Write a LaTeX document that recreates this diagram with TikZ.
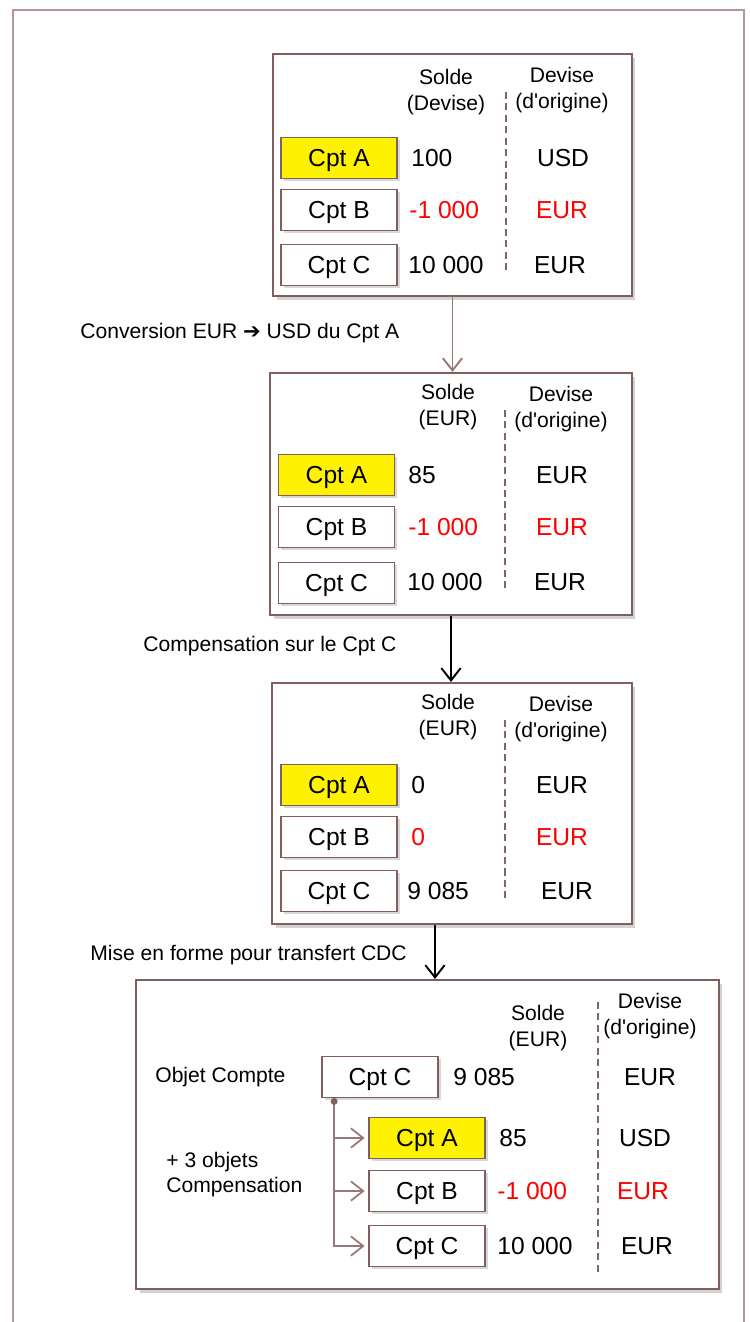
\documentclass[tikz,border=0pt]{standalone}
\usepackage{fontspec}
\setmainfont{Liberation Sans}
\newfontfamily\arrowfont{DejaVu Sans}
\usetikzlibrary{arrows.meta,shadows}

\definecolor{frameline}{RGB}{185,150,150}
\definecolor{panelline}{RGB}{130,95,95}
\definecolor{flowline}{RGB}{150,120,120}
\definecolor{cptred}{RGB}{255,0,0}

\begin{document}
\begin{tikzpicture}[x=0.02cm,y=-0.02cm,
  panel/.style={draw=panelline,line width=1.2pt,fill=white,inner sep=0pt,
    drop shadow={shadow xshift=2pt,shadow yshift=-2.5pt,opacity=.35}},
  cpt/.style={draw=panelline,line width=1pt,fill=white,minimum width=2.32cm,
    minimum height=0.82cm,inner sep=0pt,text height=10pt,text depth=0pt,
    font=\fontsize{14}{16}\selectfont,
    drop shadow={shadow xshift=1.5pt,shadow yshift=-1.5pt,opacity=.3}},
  head/.style={align=center,inner sep=0pt,font=\fontsize{12}{14.7}\selectfont},
  val/.style={anchor=west,inner sep=0pt,text height=10pt,text depth=0pt,
    font=\fontsize{14}{16}\selectfont},
  dev/.style={inner sep=0pt,text height=10pt,text depth=0pt,
    font=\fontsize{14}{16}\selectfont},
  lbl/.style={anchor=west,inner sep=0pt,font=\fontsize{12}{14.2}\selectfont},
  sep/.style={draw=flowline!85!black,dash pattern=on 4pt off 2.5pt,line width=0.8pt},
  flow/.style={line width=1.1pt,-{Straight Barb[length=7pt,width=11pt]}},
  branch/.style={flowline,line width=1pt,shorten >=2pt,
    -{Straight Barb[length=7pt,width=11pt]}}
]
  \useasboundingbox (0,0) rectangle (750,1322);
  \draw[frameline,line width=1.2pt] (13,1330) -- (13,10) -- (744,10) -- (744,1330);

  % etat initial
  \node[panel,minimum width=7.18cm,minimum height=4.84cm] (p1) at (452.5,175) {};
  \node[head] (p1h1) at (446,92) {Solde\\(Devise)};
  \node[head] (p1h2) at (562,90) {Devise\\(d\textquotesingle origine)};
  \draw[sep] (506,92) -- (506,270);
  \node[cpt,fill=yellow] (p1a) at (339,158) {Cpt A};
  \node[cpt] (p1b) at (339,210) {Cpt B};
  \node[cpt] (p1c) at (339,265) {Cpt C};
  \node[val] (p1va) at (411,158) {100};
  \node[val,cptred] (p1vb) at (409,210) {-1 000};
  \node[val] (p1vc) at (408,265) {10 000};
  \node[dev] (p1da) at (563,158) {USD};
  \node[dev,cptred] (p1db) at (562,210) {EUR};
  \node[dev] (p1dc) at (560,265) {EUR};

  % conversion
  \node[panel,minimum width=7.24cm,minimum height=4.84cm] (p2) at (451,494) {};
  \draw[flow,flowline] (p1.south) -- (p1.south |- p2.north);
  \node[lbl] (l1) at (80,333) {Conversion EUR {\arrowfont ➔} USD du Cpt A};
  \node[head] (p2h1) at (448,407) {Solde\\(EUR)};
  \node[head] (p2h2) at (561,409) {Devise\\(d\textquotesingle origine)};
  \draw[sep] (505,410) -- (505,588);
  \node[cpt,fill=yellow] (p2a) at (336.5,475) {Cpt A};
  \node[cpt] (p2b) at (336.5,527) {Cpt B};
  \node[cpt] (p2c) at (336.5,583) {Cpt C};
  \node[val] (p2va) at (408,475) {85};
  \node[val,cptred] (p2vb) at (408,527) {-1 000};
  \node[val] (p2vc) at (407,582) {10 000};
  \node[dev] (p2da) at (562,475) {EUR};
  \node[dev,cptred] (p2db) at (562,527) {EUR};
  \node[dev] (p2dc) at (560,582) {EUR};

  % compensation
  \node[panel,minimum width=7.2cm,minimum height=4.82cm] (p3) at (452,803.5) {};
  \draw[flow,black] (p2.south) -- (p2.south |- p3.north);
  \node[lbl] (l2) at (143,646) {Compensation sur le Cpt C};
  \node[head] (p3h1) at (448,717) {Solde\\(EUR)};
  \node[head] (p3h2) at (561,719) {Devise\\(d\textquotesingle origine)};
  \draw[sep] (505,720) -- (505,900);
  \node[cpt,fill=yellow] (p3a) at (339,785) {Cpt A};
  \node[cpt] (p3b) at (339,837) {Cpt B};
  \node[cpt] (p3c) at (339,891) {Cpt C};
  \node[val] (p3va) at (411,785) {0};
  \node[val,cptred] (p3vb) at (411,837) {0};
  \node[val] (p3vc) at (407,891) {9 085};
  \node[dev] (p3da) at (562,785) {EUR};
  \node[dev,cptred] (p3db) at (562,837) {EUR};
  \node[dev] (p3dc) at (567,891) {EUR};

  % transfert CDC
  \node[panel,minimum width=11.66cm,minimum height=6.18cm] (p4) at (427.5,1134.5) {};
  \draw[flow,black] ([xshift=-0.34cm]p3.south) -- ([xshift=-0.34cm]p3.south |- p4.north);
  \node[lbl] (l3) at (90,955) {Mise en forme pour transfert CDC};
  \node[head] (p4h1) at (538,1028) {Solde\\(EUR)};
  \node[head] (p4h2) at (650,1016) {Devise\\(d\textquotesingle origine)};
  \draw[sep] (598,1002) -- (598,1273);
  \node[lbl] (obj) at (155,1077) {Objet Compte};
  \node[lbl,align=left] (comp) at (166,1175) {+ 3 objets\\Compensation};
  \node[cpt] (q0) at (380,1077) {Cpt C};
  \node[val] (q0v) at (453,1077) {9 085};
  \node[dev] (q0d) at (650,1077) {EUR};
  \node[cpt,fill=yellow] (qa) at (427,1138) {Cpt A};
  \node[cpt] (qb) at (427,1191) {Cpt B};
  \node[cpt] (qc) at (427,1246) {Cpt C};
  \node[val] (qav) at (499,1138) {85};
  \node[val,cptred] (qbv) at (497,1191) {-1 000};
  \node[val] (qcv) at (497,1246) {10 000};
  \node[dev] (qad) at (645,1138) {USD};
  \node[dev,cptred] (qbd) at (643,1191) {EUR};
  \node[dev] (qcd) at (647,1246) {EUR};
  \coordinate (hub) at ([xshift=0.26cm,yshift=-0.06cm]q0.south west);
  \draw[branch] (hub) |- (qa.west);
  \draw[branch] (hub) |- (qb.west);
  \draw[branch] (hub) |- (qc.west);
  \path[fill=panelline] (hub) circle [radius=0.07cm];
\end{tikzpicture}
\end{document}
